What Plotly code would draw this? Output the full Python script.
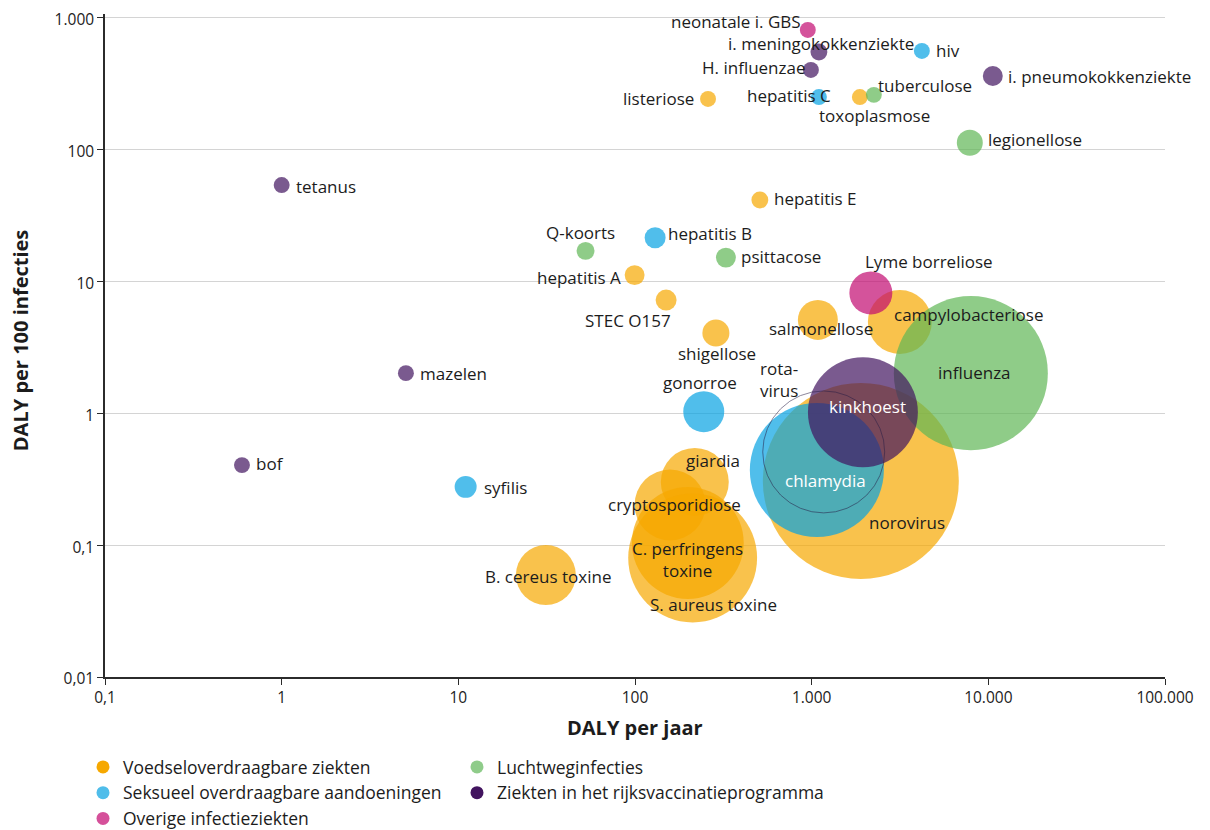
import numpy as np
import plotly.graph_objects as go

# ---------------- data ----------------
ziekten = [
    "neonatale i. GBS", "i. meningokokkenziekte", "hiv", "H. influenzae",
    "i. pneumokokkenziekte", "listeriose", "hepatitis C", "toxoplasmose",
    "tuberculose", "legionellose", "tetanus", "hepatitis E", "Q-koorts",
    "hepatitis B", "psittacose", "hepatitis A", "STEC O157", "shigellose",
    "salmonellose", "Lyme borreliose", "campylobacteriose", "influenza",
    "mazelen", "kinkhoest", "gonorroe", "rotavirus", "chlamydia", "norovirus",
    "giardia", "cryptosporidiose", "C. perfringens toxine", "S. aureus toxine",
    "B. cereus toxine", "syfilis", "bof",
]
categorie = [
    "O", "R", "S", "R",
    "R", "V", "S", "V",
    "L", "L", "R", "V", "L",
    "S", "L", "V", "V", "V",
    "V", "O", "V", "L",
    "R", "R", "S", "V", "S", "V",
    "V", "V", "V", "V",
    "V", "S", "R",
]
daly_per_jaar = [
    951, 1099, 4205, 990,
    10600, 259, 1099, 1874,
    2249, 7855, 1.0, 509, 52.5,
    130, 327, 99.5, 150, 287,
    1084, 2163, 3156, 7960,
    5.05, 1950, 245, 1170, 1070, 1898,
    218, 158, 199, 212,
    31.3, 11.0, 0.596,
]
daly_per_100_infecties = [
    811, 552, 562, 403,
    363, 243, 251, 251,
    261, 113, 54, 41.6, 17.1,
    21.5, 15.2, 11.2, 7.24, 4.07,
    5.12, 8.2, 4.93, 2.02,
    2.02, 1.02, 1.03, 0.51, 0.372, 0.307,
    0.302, 0.202, 0.104, 0.080,
    0.0594, 0.277, 0.405,
]
incidentie = [
    4100, 4600, 4100, 4100,
    6400, 4100, 4100, 4100,
    4100, 10900, 4100, 4600, 5200,
    7100, 6400, 6400, 7100, 11800,
    25800, 29800, 66000, 383000,
    4100, 195000, 27100, 240000, 290000, 620000,
    74600, 81400, 202000, 268000,
    58000, 7800, 4100,
]

categorie_namen = {
    "V": "Voedseloverdraagbare ziekten",
    "L": "Luchtweginfecties",
    "S": "Seksueel overdraagbare aandoeningen",
    "R": "Ziekten in het rijksvaccinatieprogramma",
    "O": "Overige infectieziekten",
}
x_tickvals = [0.1, 1, 10, 100, 1000, 10000, 100000]
x_ticktext = ["0,1", "1", "10", "100", "1.000", "10.000", "100.000"]
y_tickvals = [0.01, 0.1, 1, 10, 100, 1000]
y_ticktext = ["0,01", "0,1", "1", "10", "100", "1.000"]
x_titel = "DALY per jaar"
y_titel = "DALY per 100 infecties"

# ---------------- styling ----------------
FONT = "Open Sans"
TXT = "#1c1c1c"
LBL = 17
W, H = 1202, 822          # page adds an 8px body margin
ML, MR, MT, MB = 97, 45, 6, 153
Y_RANGE = [-2, 3.03]      # a little above 1.000 so its gridline/label are drawn
bubble_kleur = {"V": "#F6A800", "S": "#05A2E2", "L": "#5FB656",
                "R": "#42145F", "O": "#C20A70"}
legend_kleur = {"V": "#F6A800", "S": "#4FBDEA", "L": "#8FCC8A",
                "R": "#42145F", "O": "#D5509A"}
MAX_RADIUS = 98
sizeref = max(incidentie) / (2 * MAX_RADIUS ** 2)

# label placement: (xanchor, xshift, yshift)
label_stijl = {
    "neonatale i. GBS": ("right", -5, 8),
    "i. meningokokkenziekte": ("center", 2, 8),
    "hiv": ("left", 12, 0),
    "H. influenzae": ("right", -3, 2),
    "i. pneumokokkenziekte": ("left", 13, -1),
    "listeriose": ("right", -12, 0),
    "hepatitis C": ("right", 14, 2),
    "toxoplasmose": ("left", -43, -18),
    "tuberculose": ("left", 2, 9),
    "legionellose": ("left", 16, 3),
    "tetanus": ("left", 12, -1),
    "hepatitis E": ("left", 12, 1),
    "Q-koorts": ("center", -5, 18),
    "hepatitis B": ("left", 11, 4),
    "psittacose": ("left", 13, 1),
    "hepatitis A": ("right", -12, -2),
    "STEC O157": ("right", 7, -20),
    "shigellose": ("center", 1, -20),
    "salmonellose": ("center", 3, -9),
    "Lyme borreliose": ("left", -8, 31),
    "campylobacteriose": ("left", -8, 8),
    "influenza": ("center", 4, 1),
    "mazelen": ("left", 12, 0),
    "kinkhoest": ("center", 5, 6),
    "gonorroe": ("center", -4, 29),
    "rotavirus": ("left", -66, 72),
    "chlamydia": ("center", 9, -11),
    "norovirus": ("center", 46, -42),
    "giardia": ("center", 18, 21),
    "cryptosporidiose": ("center", 4, 0),
    "C. perfringens toxine": ("center", 0, -17),
    "S. aureus toxine": ("center", 21, -47),
    "B. cereus toxine": ("center", 2, -1),
    "syfilis": ("left", 16, -1),
    "bof": ("left", 12, 2),
}
label_tekst = {"rotavirus": "rota-<br>virus",
               "C. perfringens toxine": "C. perfringens<br>toxine"}
witte_labels = {"kinkhoest", "chlamydia"}

fig = go.Figure()

# bubbles, per category (draw order matters for the overlaps)
for cat in ["V", "S", "L", "R", "O"]:
    idx = [i for i, c in enumerate(categorie) if c == cat and ziekten[i] != "rotavirus"]
    fig.add_trace(go.Scatter(
        x=[daly_per_jaar[i] for i in idx],
        y=[daly_per_100_infecties[i] for i in idx],
        text=[ziekten[i] for i in idx],
        mode="markers",
        showlegend=False,
        hoverinfo="text",
        marker=dict(size=[incidentie[i] for i in idx], sizemode="area",
                    sizeref=sizeref, color=bubble_kleur[cat], opacity=0.7,
                    line=dict(width=0)),
    ))

# rotavirus: drawn as an outlined circle
ri = ziekten.index("rotavirus")
fig.add_trace(go.Scatter(
    x=[daly_per_jaar[ri]], y=[daly_per_100_infecties[ri]], text=["rotavirus"],
    mode="markers", showlegend=False, hoverinfo="text",
    marker=dict(size=[incidentie[ri]], sizemode="area", sizeref=sizeref,
                color="rgba(0,0,0,0)", line=dict(width=1, color="rgba(40,30,70,0.75)")),
))

# legend entries
for cat, leg in [("V", "legend"), ("S", "legend"), ("O", "legend"),
                 ("L", "legend2"), ("R", "legend2")]:
    fig.add_trace(go.Scatter(
        x=[None], y=[None], mode="markers", name=categorie_namen[cat],
        legend=leg, marker=dict(color=legend_kleur[cat], size=13),
    ))

# labels
for i, naam in enumerate(ziekten):
    xa, xs, ys = label_stijl[naam]
    fig.add_annotation(
        x=np.log10(daly_per_jaar[i]), y=np.log10(daly_per_100_infecties[i]),
        text=label_tekst.get(naam, naam), showarrow=False,
        xanchor=xa, yanchor="middle", xshift=xs, yshift=ys,
        align="left" if naam == "rotavirus" else "center",
        font=dict(family=FONT, size=LBL,
                  color="white" if naam in witte_labels else TXT),
    )

# axis titles
fig.add_annotation(xref="paper", yref="paper", x=0.5, y=0, yanchor="middle",
                   yshift=-50, showarrow=False, text=f"<b>{x_titel}</b>",
                   font=dict(family=FONT, size=20, color=TXT))
fig.add_annotation(xref="paper", yref="paper", x=0, y=0.508, xanchor="center",
                   xshift=-85, textangle=-90, showarrow=False, text=f"<b>{y_titel}</b>",
                   font=dict(family=FONT, size=20, color=TXT))

leg_top = 1 - (741 / H)
fig.update_layout(
    width=W, height=H,
    margin=dict(l=ML, r=MR, t=MT, b=MB, autoexpand=False),
    paper_bgcolor="white", plot_bgcolor="white",
    font=dict(family=FONT, size=16, color=TXT),
    xaxis=dict(type="log", range=[-1, 5], tickvals=x_tickvals, ticktext=x_ticktext,
               showgrid=False, zeroline=False, showline=True, linecolor="#2b2b2b",
               linewidth=1.5, ticks="outside", ticklen=6, tickcolor="#2b2b2b",
               automargin=False, ticklabeloverflow="allow",
               tickfont=dict(family=FONT, size=15.5, color=TXT)),
    yaxis=dict(type="log", range=Y_RANGE, tickvals=y_tickvals, ticktext=y_ticktext,
               showgrid=True, gridcolor="#d4d4d4", gridwidth=1, zeroline=False,
               showline=True, linecolor="#2b2b2b", linewidth=1.5, ticks="outside",
               ticklen=6, tickcolor="#2b2b2b", automargin=False,
               ticklabeloverflow="allow", ticklabelshift=2,
               tickfont=dict(family=FONT, size=15.5, color=TXT)),
    legend=dict(xref="container", yref="container", x=75 / W, y=leg_top,
                xanchor="left", yanchor="top", orientation="v",
                font=dict(family=FONT, size=17.5, color=TXT), tracegroupgap=0,
                bgcolor="rgba(0,0,0,0)"),
    legend2=dict(xref="container", yref="container", x=449 / W, y=leg_top,
                 xanchor="left", yanchor="top", orientation="v",
                 font=dict(family=FONT, size=17.5, color=TXT), tracegroupgap=0,
                 bgcolor="rgba(0,0,0,0)"),
    showlegend=True,
)

fig.write_html("out.html")
